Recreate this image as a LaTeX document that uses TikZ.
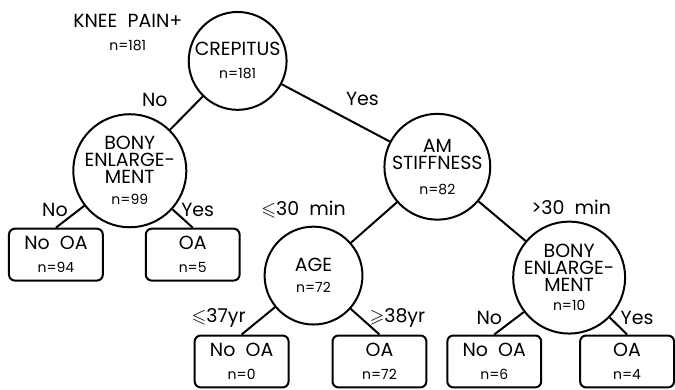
\documentclass[tikz,border=0pt]{standalone}
\usepackage{fontspec}
\usepackage{amssymb}
\setmainfont{Poppins}
\usetikzlibrary{positioning}

\newcommand{\nsz}[1]{{\fontsize{7}{8}\selectfont #1}}

\begin{document}
\begin{tikzpicture}[x=0.5pt, y=-0.5pt,
  split/.style={draw, circle, line width=1pt, minimum size=49pt, inner sep=0pt,
    align=center, font=\fontsize{9.5}{8.5}\selectfont},
  leaf/.style={draw, rounded corners=3pt, line width=1pt, minimum width=47pt,
    minimum height=26pt, align=center, font=\fontsize{9.5}{9.5}\selectfont},
  branch/.style={line width=1pt},
  lbl/.style={font=\fontsize{9.5}{9.5}\selectfont}]

% Frame (pixel grid, y down)
\useasboundingbox (0,0) rectangle (676,390);

% Start
\node[lbl, align=center] (root) at (128,33) {KNEE\ \ PAIN+\\[2pt]\nsz{n=181}};

% Split nodes
\node[split] (crep) at (238,61) {CREPITUS\\[3pt]\nsz{n=181}};
\node[split] (bonyL) at (130,171) {BONY\\ENLARGE-\\MENT\\[2pt]\nsz{n=99}};
\node[split] (stiff) at (438,167) {AM\\STIFFNESS\\[4pt]\nsz{n=82}};
\node[split] (age) at (314,276) {AGE\\[2pt]\nsz{n=72}};
\node[split] (bonyR) at (570,278) {BONY\\ENLARGE-\\MENT\\[1pt]\nsz{n=10}};

% Outcomes
\node[leaf] (noL) at (56,255) {No\ \ OA\\[2pt]\nsz{n=94}};
\node[leaf] (oaL) at (193,255) {OA\\[2pt]\nsz{n=5}};
\node[leaf] (noAge) at (242,362) {No\ \ OA\\[2pt]\nsz{n=0}};
\node[leaf] (oaAge) at (380,362) {OA\\[2pt]\nsz{n=72}};
\node[leaf] (noR) at (495,362) {No\ \ OA\\[2pt]\nsz{n=6}};
\node[leaf] (oaR) at (628,362) {OA\\[2pt]\nsz{n=4}};

% Branches
\draw[branch] (crep) -- (bonyL);
\draw[branch] (crep) -- (stiff);
\draw[branch] (bonyL) -- (noL.north);
\draw[branch] (bonyL) -- (oaL.north);
\draw[branch] (stiff) -- (age);
\draw[branch] (stiff) -- (bonyR);
\draw[branch] (age) -- (noAge.north);
\draw[branch] (age) -- (oaAge.north);
\draw[branch] (bonyR) -- (noR.north);
\draw[branch] (bonyR) -- (oaR.north);

% Branch labels
\node[lbl] (noA) at (155,100) {No};
\node[lbl] (yesA) at (363,99) {Yes};
\node[lbl] (noB) at (55,210) {No};
\node[lbl] (yesB) at (198,210) {Yes};
\node[lbl] (shortAm) at (304,210) {$\leqslant$30\ \ min};
\node[lbl] (longAm) at (572,208) {>30\ \ min};
\node[lbl] (young) at (219,318) {$\leqslant$37yr};
\node[lbl] (old) at (398,318) {$\geqslant$38yr};
\node[lbl] (noC) at (490,318) {No};
\node[lbl] (yesC) at (638,318) {Yes};

\end{tikzpicture}
\end{document}
